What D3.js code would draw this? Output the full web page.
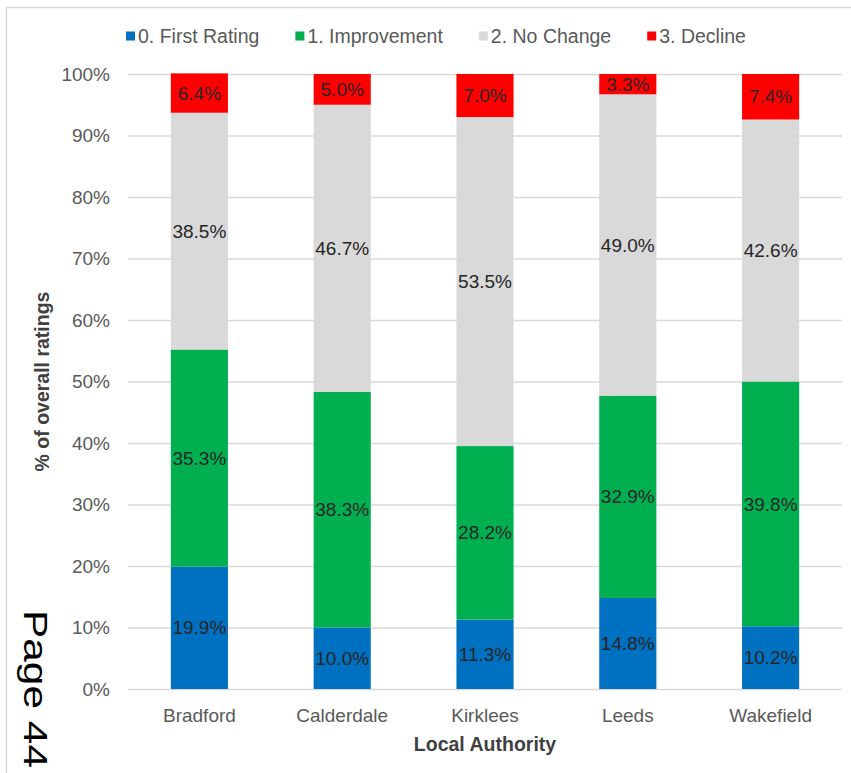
<!DOCTYPE html>
<html>
<head>
<meta charset="utf-8">
<script src="https://cdn.jsdelivr.net/npm/d3@7"></script>
<style>
  html, body { margin: 0; padding: 0; background: #fff; }
  svg { display: block; font-family: "Liberation Sans", Arial, sans-serif; }
</style>
</head>
<body>
<svg id="chart" width="851" height="773"></svg>
<script>
// Share of overall ratings by local authority (percent)
const authorities = ["Bradford", "Calderdale", "Kirklees", "Leeds", "Wakefield"];
const seriesNames = ["0. First Rating", "1. Improvement", "2. No Change", "3. Decline"];
const firstRating = [19.9, 10.0, 11.3, 14.8, 10.2];
const improvement = [35.3, 38.3, 28.2, 32.9, 39.8];
const noChange    = [38.5, 46.7, 53.5, 49.0, 42.6];
const decline     = [6.4, 5.0, 7.0, 3.3, 7.4];
const yTickValues = [0, 10, 20, 30, 40, 50, 60, 70, 80, 90, 100];
const seriesColors = ["#0070C0", "#00B050", "#D9D9D9", "#FF0000"];

const rows = authorities.map((name, i) => ({
  name,
  [seriesNames[0]]: firstRating[i],
  [seriesNames[1]]: improvement[i],
  [seriesNames[2]]: noChange[i],
  [seriesNames[3]]: decline[i]
}));

const svg = d3.select("#chart");
const W = 851, H = 773;
const plot = { left: 128, right: 842, top: 74, bottom: 689 };

// Outer frame (top and left edges visible)
svg.append("path")
  .attr("d", `M6.5,${H} V7.5 H${W}`)
  .attr("fill", "none")
  .attr("stroke", "#D9D9D9")
  .attr("stroke-width", 1.5);

const x = d3.scaleBand()
  .domain(authorities)
  .range([plot.left, plot.right])
  .paddingInner(0.6)
  .paddingOuter(0.3);

const y = d3.scaleLinear()
  .domain([0, 100])
  .range([plot.bottom, plot.top]);

const color = d3.scaleOrdinal().domain(seriesNames).range(seriesColors);

// Gridlines + y tick labels
const yAxis = d3.axisLeft(y)
  .tickValues(yTickValues)
  .tickFormat(d => d + "%")
  .tickSize(-(plot.right - plot.left))
  .tickPadding(18);

const gy = svg.append("g")
  .attr("transform", `translate(${plot.left},0)`)
  .call(yAxis);
gy.select(".domain").remove();
gy.selectAll(".tick line").attr("stroke", "#D9D9D9").attr("stroke-width", 1.5);
gy.selectAll(".tick text")
  .attr("fill", "#595959")
  .attr("font-size", 19)
  .attr("font-family", "Liberation Sans, Arial, sans-serif");

// Stacked bars
const stacked = d3.stack().keys(seriesNames)(rows);

const layers = svg.append("g").selectAll("g.layer")
  .data(stacked)
  .join("g")
  .attr("class", "layer")
  .attr("fill", d => color(d.key));

layers.selectAll("rect")
  .data(d => d.map(s => ({ s, key: d.key })))
  .join("rect")
  .attr("x", d => x(d.s.data.name))
  .attr("width", x.bandwidth())
  .attr("y", d => y(d.s[1]))
  .attr("height", d => y(d.s[0]) - y(d.s[1]));

// Value labels centred in each segment
layers.selectAll("text")
  .data(d => d.map(s => ({ s, key: d.key })))
  .join("text")
  .attr("x", d => x(d.s.data.name) + x.bandwidth() / 2)
  .attr("y", d => y((d.s[0] + d.s[1]) / 2))
  .attr("dy", "0.35em")
  .attr("text-anchor", "middle")
  .attr("font-size", 19)
  .attr("fill", "#262626")
  .text(d => d.s.data[d.key].toFixed(1) + "%");

// Category labels
const xAxis = d3.axisBottom(x).tickSize(0).tickPadding(20);
const gx = svg.append("g")
  .attr("transform", `translate(0,${plot.bottom})`)
  .call(xAxis);
gx.select(".domain").remove();
gx.selectAll(".tick text")
  .attr("fill", "#595959")
  .attr("font-size", 19)
  .attr("font-family", "Liberation Sans, Arial, sans-serif");

// Axis titles
svg.append("text")
  .attr("x", (plot.left + plot.right) / 2)
  .attr("y", 751)
  .attr("text-anchor", "middle")
  .attr("font-size", 19.5)
  .attr("font-weight", "bold")
  .attr("fill", "#404040")
  .text("Local Authority");

svg.append("text")
  .attr("transform", `translate(49,${(plot.top + plot.bottom) / 2}) rotate(-90)`)
  .attr("text-anchor", "middle")
  .attr("font-size", 19.5)
  .attr("font-weight", "bold")
  .attr("fill", "#404040")
  .text("% of overall ratings");

// Legend
const legend = svg.append("g").attr("transform", "translate(0,36)");
let lx = 126;
seriesNames.forEach((name, i) => {
  const item = legend.append("g").attr("transform", `translate(${lx},0)`);
  item.append("rect")
    .attr("x", 0).attr("y", -4.5)
    .attr("width", 9).attr("height", 9)
    .attr("fill", color(name));
  const t = item.append("text")
    .attr("x", 12)
    .attr("dy", "0.35em")
    .attr("font-size", 19.5)
    .attr("fill", "#595959")
    .text(name);
  lx += 12 + t.node().getComputedTextLength() + 36;
});

// Page number stamped along the left margin
svg.append("text")
  .attr("transform", "translate(24,610) rotate(90)")
  .attr("font-size", 34)
  .attr("fill", "#000")
  .attr("textLength", 158)
  .attr("lengthAdjust", "spacingAndGlyphs")
  .text("Page 44");
</script>
</body>
</html>
